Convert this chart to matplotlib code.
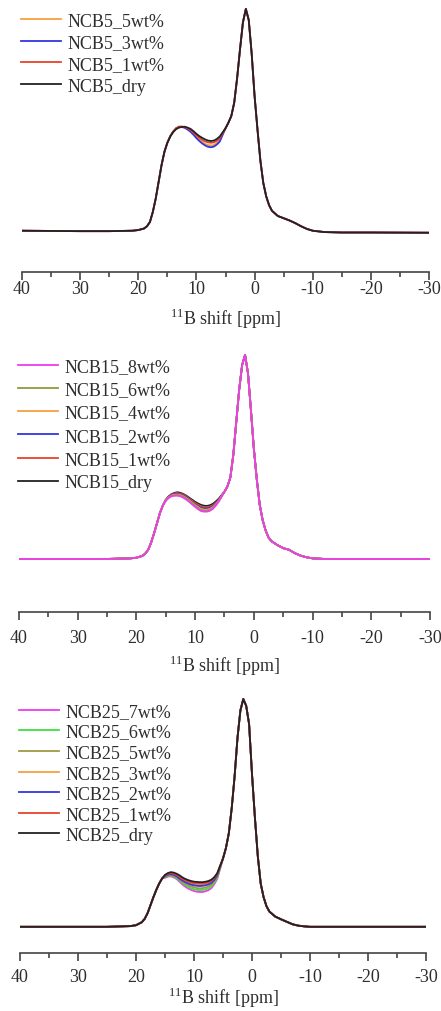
#-------------------------------------------------#
#--------------Libraries--------------------------#
#-------------------------------------------------#

import matplotlib
matplotlib.use("Agg")
import matplotlib.pyplot as plt
from matplotlib.ticker import MultipleLocator

#-------------------------------------------------#
#---------------Data-------#
#-------------------------------------------------#

# chemical shift grid in ppm, same for all three panels
shift = [40, 30, 25, 21, 20, 19, 18.5, 18, 17.5, 17, 16.5, 16, 15.5,
         15, 14.5, 14, 13.5, 13, 12.5, 12, 11.5, 11, 10.5, 10, 9.5, 9, 8.5, 8, 7.5, 7, 6.5, 6,
         5, 4.5, 4, 3.5, 3, 2.5, 2, 1.5, 1, 0.5, 0, -0.5, -1, -1.5, -2, -2.5, -3,
         -4, -5, -6, -7, -8, -9, -10, -12, -15, -20, -30]

# NCB5 : wings are shared, the 15..6 ppm part differs
left5 = [0.006, 0.004, 0.004, 0.006, 0.009, 0.016, 0.026, 0.045, 0.09, 0.15, 0.225, 0.30, 0.36]
right5 = [0.465, 0.49, 0.52, 0.58, 0.69, 0.82, 0.94, 1.0, 0.95, 0.80, 0.61, 0.46, 0.32, 0.22,
          0.16, 0.12, 0.095, 0.072, 0.062, 0.052, 0.04, 0.026, 0.014, 0.006, 0.0, -0.002,
          -0.002, -0.003]
mid5_5wt = [0.40, 0.43, 0.45, 0.465, 0.472, 0.472, 0.468, 0.461, 0.452, 0.44, 0.426, 0.414,
            0.403, 0.395, 0.39, 0.388, 0.39, 0.399, 0.412]
mid5_3wt = [0.40, 0.43, 0.45, 0.465, 0.472, 0.471, 0.467, 0.459, 0.449, 0.436, 0.421, 0.408,
            0.397, 0.388, 0.382, 0.380, 0.383, 0.392, 0.405]
mid5_1wt = [0.40, 0.43, 0.45, 0.465, 0.472, 0.473, 0.470, 0.465, 0.457, 0.446, 0.434, 0.423,
            0.413, 0.406, 0.402, 0.400, 0.402, 0.409, 0.42]
mid5_dry = [0.40, 0.428, 0.448, 0.461, 0.468, 0.471, 0.472, 0.468, 0.462, 0.452, 0.44, 0.43,
            0.422, 0.415, 0.41, 0.408, 0.41, 0.417, 0.428]

# NCB15
left15 = [0.0, 0.0, 0.0, 0.003, 0.006, 0.015, 0.026, 0.045, 0.08, 0.125, 0.175, 0.225, 0.262]
right15 = [0.33, 0.355, 0.40, 0.51, 0.67, 0.83, 0.95, 1.0, 0.91, 0.73, 0.54, 0.39, 0.265, 0.19,
           0.14, 0.105, 0.087, 0.068, 0.053, 0.045, 0.028, 0.016, 0.008, 0.003, 0.0, 0.0,
           0.0, 0.0]
mid15_8wt = [0.285, 0.299, 0.308, 0.31, 0.31, 0.307, 0.30, 0.291, 0.28, 0.267, 0.255, 0.244,
             0.235, 0.232, 0.232, 0.236, 0.245, 0.261, 0.28]
mid15_6wt = [0.287, 0.301, 0.309, 0.312, 0.313, 0.31, 0.304, 0.295, 0.284, 0.272, 0.26, 0.249,
             0.24, 0.237, 0.236, 0.24, 0.249, 0.264, 0.283]
mid15_4wt = [0.288, 0.302, 0.311, 0.315, 0.316, 0.313, 0.307, 0.298, 0.288, 0.276, 0.264, 0.254,
             0.245, 0.242, 0.241, 0.245, 0.253, 0.267, 0.285]
mid15_2wt = [0.289, 0.304, 0.313, 0.318, 0.319, 0.316, 0.311, 0.302, 0.292, 0.28, 0.268, 0.259,
             0.251, 0.248, 0.247, 0.25, 0.258, 0.271, 0.288]
mid15_1wt = [0.29, 0.306, 0.316, 0.321, 0.323, 0.32, 0.315, 0.306, 0.296, 0.285, 0.274, 0.265,
             0.258, 0.254, 0.253, 0.256, 0.263, 0.275, 0.29]
mid15_dry = [0.29, 0.307, 0.318, 0.324, 0.327, 0.324, 0.318, 0.31, 0.30, 0.29, 0.28, 0.272,
             0.265, 0.261, 0.26, 0.263, 0.27, 0.281, 0.295]

# NCB25
left25 = [0.0, 0.0, 0.0, 0.003, 0.007, 0.02, 0.035, 0.06, 0.095, 0.13, 0.162, 0.19, 0.212]
right25 = [0.30, 0.345, 0.41, 0.52, 0.66, 0.83, 0.95, 1.0, 0.97, 0.89, 0.67, 0.48, 0.31, 0.19,
           0.13, 0.09, 0.067, 0.045, 0.033, 0.022, 0.011, 0.005, 0.002, 0.0, 0.0, 0.0,
           0.0, 0.0]
mid25_7wt = [0.215, 0.22, 0.222, 0.217, 0.21, 0.198, 0.186, 0.176, 0.168, 0.162, 0.157, 0.154,
             0.153, 0.153, 0.156, 0.161, 0.17, 0.187, 0.21]
mid25_6wt = [0.218, 0.223, 0.225, 0.221, 0.214, 0.203, 0.192, 0.183, 0.175, 0.169, 0.165, 0.162,
             0.161, 0.162, 0.164, 0.169, 0.178, 0.193, 0.215]
mid25_5wt = [0.22, 0.226, 0.228, 0.224, 0.218, 0.207, 0.197, 0.189, 0.182, 0.177, 0.173, 0.17,
             0.169, 0.17, 0.172, 0.177, 0.185, 0.199, 0.22]
mid25_3wt = [0.225, 0.231, 0.234, 0.231, 0.225, 0.216, 0.207, 0.2, 0.195, 0.191, 0.188, 0.187,
             0.186, 0.186, 0.188, 0.192, 0.199, 0.211, 0.23]
mid25_2wt = [0.223, 0.229, 0.231, 0.228, 0.222, 0.212, 0.203, 0.196, 0.19, 0.185, 0.182, 0.18,
             0.179, 0.18, 0.182, 0.186, 0.193, 0.206, 0.226]
mid25_1wt = [0.226, 0.233, 0.236, 0.233, 0.228, 0.22, 0.211, 0.204, 0.199, 0.195, 0.192, 0.191,
             0.19, 0.19, 0.192, 0.196, 0.202, 0.214, 0.232]
mid25_dry = [0.228, 0.236, 0.24, 0.238, 0.233, 0.226, 0.217, 0.21, 0.205, 0.201, 0.198, 0.197,
             0.196, 0.196, 0.198, 0.201, 0.207, 0.218, 0.235]

labels5 = ["NCB5_5wt%", "NCB5_3wt%", "NCB5_1wt%", "NCB5_dry"]
labels15 = ["NCB15_8wt%", "NCB15_6wt%", "NCB15_4wt%", "NCB15_2wt%", "NCB15_1wt%", "NCB15_dry"]
labels25 = ["NCB25_7wt%", "NCB25_6wt%", "NCB25_5wt%", "NCB25_3wt%", "NCB25_2wt%",
            "NCB25_1wt%", "NCB25_dry"]

#-------------------------------------------------#
#---------------Styles----------------------------#
#-------------------------------------------------#

orange = "#f4a040"
blue = "#3535e0"
red = "#e8432c"
black = "#222222"
magenta = "#f03cf0"
olive = "#8e9c3c"
green = "#3ee03e"
olive2 = "#a09a48"

colors5 = [orange, blue, red, black]
colors15 = [magenta, olive, orange, blue, red, black]
colors25 = [magenta, green, olive2, orange, blue, red, black]

plt.rcParams["font.family"] = ["Liberation Serif", "DejaVu Serif"]
plt.rcParams["mathtext.fontset"] = "custom"
plt.rcParams["mathtext.rm"] = "Liberation Serif"
plt.rcParams["axes.unicode_minus"] = False
text_color = "#2e2e2e"
fs = 13

W, H = 441.0, 1012.0

def make_axes(fig, left, right, top, bottom):
    return fig.add_axes([left / W, 1 - bottom / H, (right - left) / W, (bottom - top) / H])

def style_axes(ax, ylim, tickpad, labelpad):
    ax.set_xlim(40, -30)
    ax.set_ylim(*ylim)
    for side in ["left", "right", "top"]:
        ax.spines[side].set_visible(False)
    ax.spines["bottom"].set_color("#444444")
    ax.spines["bottom"].set_linewidth(1.2)
    ax.set_yticks([])
    ax.xaxis.set_major_locator(MultipleLocator(10))
    ax.xaxis.set_minor_locator(MultipleLocator(5))
    ax.tick_params(axis="x", which="major", direction="out", length=6, width=1.2,
                   color="#444444", labelsize=fs, labelcolor=text_color, pad=tickpad)
    ax.tick_params(axis="x", which="minor", direction="out", length=3.5, width=1.2,
                   color="#444444")
    ax.set_xlabel("$^{11}$B shift [ppm]", fontsize=fs, color=text_color, labelpad=labelpad)
    ax.patch.set_alpha(0)

def add_legend(ax, fig, x, y, spacing):
    ax.legend(loc="upper left", bbox_to_anchor=(x / W, 1 - y / H),
              bbox_transform=fig.transFigure, frameon=False, fontsize=fs,
              handlelength=2.2, handletextpad=0.35, labelspacing=spacing,
              borderpad=0, borderaxespad=0, labelcolor=text_color)

#-------------------------------------------------#
#---------------Plotting--------------------------#
#-------------------------------------------------#

fig = plt.figure(figsize=(W / 100, H / 100), dpi=100)

# panel 1 : NCB5
ax1 = make_axes(fig, 22, 429, 5, 273)
mids5 = [mid5_5wt, mid5_3wt, mid5_1wt, mid5_dry]
for mid, c, lab in zip(mids5, colors5, labels5):
    ax1.plot(shift, left5 + mid + right5, color=c, lw=1.3, label=lab)
style_axes(ax1, (-0.179, 1.022), 0, 6)
add_legend(ax1, fig, 21, 13, 0.27)

# panel 2 : NCB15, wettest sample on top
ax2 = make_axes(fig, 19, 430, 350, 613)
mids15 = [mid15_8wt, mid15_6wt, mid15_4wt, mid15_2wt, mid15_1wt, mid15_dry]
for i, (mid, c, lab) in enumerate(zip(mids15, colors15, labels15)):
    ax2.plot(shift, left15 + mid + right15, color=c, lw=1.3, label=lab, zorder=10 - i)
style_axes(ax2, (-0.26, 1.029), 6, 5.5)
add_legend(ax2, fig, 18, 359, 0.345)

# panel 3 : NCB25
ax3 = make_axes(fig, 20, 426, 695, 954)
mids25 = [mid25_7wt, mid25_6wt, mid25_5wt, mid25_3wt, mid25_2wt, mid25_1wt, mid25_dry]
for mid, c, lab in zip(mids25, colors25, labels25):
    ax3.plot(shift, left25 + mid + right25, color=c, lw=1.3, label=lab)
style_axes(ax3, (-0.115, 1.022), 4.5, 0.5)
add_legend(ax3, fig, 19, 704, 0.2)

plt.savefig("out.png", dpi=100)
